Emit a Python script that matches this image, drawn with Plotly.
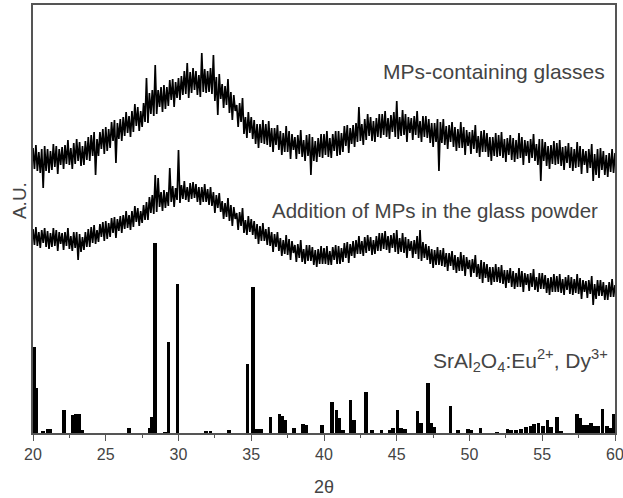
import plotly.graph_objects as go

# Scan grid (2theta) for the two measured patterns
SCAN_START = 20.0
SCAN_STEP = 0.1

# Intensity (arbitrary units) - MPs-containing glasses, one row per degree (20..59) + 60
glasses = [
    285, 264, 288, 262, 281, 260, 284, 245, 287, 262,
    284, 260, 282, 263, 289, 266, 287, 259, 284, 268,
    286, 264, 288, 269, 293, 268, 285, 264, 290, 269,
    294, 272, 291, 267, 287, 268, 292, 273, 296, 272,
    298, 277, 301, 258, 294, 277, 301, 284, 304, 279,
    306, 282, 304, 285, 311, 292, 313, 270, 310, 294,
    314, 292, 316, 297, 321, 300, 317, 296, 322, 301,
    329, 307, 326, 302, 322, 306, 330, 311, 355, 310,
    340, 319, 343, 317, 368, 319, 343, 326, 346, 321,
    348, 324, 346, 327, 353, 333, 354, 326, 351, 335,
    355, 333, 357, 338, 362, 339, 370, 335, 361, 340,
    365, 343, 362, 338, 358, 336, 380, 341, 364, 340,
    362, 341, 365, 339, 378, 332, 356, 318, 359, 334,
    349, 325, 347, 328, 354, 320, 341, 313, 338, 322,
    328, 306, 330, 311, 335, 299, 316, 295, 321, 300,
    316, 294, 313, 289, 309, 285, 309, 290, 313, 289,
    309, 288, 312, 286, 305, 281, 305, 288, 308, 283,
    302, 278, 300, 281, 307, 281, 302, 274, 299, 283,
    296, 274, 298, 279, 303, 276, 293, 272, 298, 277,
    299, 258, 296, 272, 292, 271, 295, 276, 299, 275,
    299, 278, 302, 276, 295, 275, 299, 282, 302, 277,
    302, 278, 300, 281, 307, 287, 308, 280, 305, 289,
    308, 286, 310, 291, 326, 292, 309, 288, 314, 293,
    319, 297, 316, 292, 312, 291, 315, 296, 319, 295,
    319, 298, 322, 296, 315, 294, 318, 301, 321, 296,
    332, 294, 316, 297, 323, 298, 319, 291, 316, 300,
    315, 293, 317, 298, 322, 295, 312, 291, 317, 296,
    317, 295, 314, 290, 310, 286, 310, 291, 314, 262,
    311, 290, 314, 288, 307, 284, 308, 291, 311, 286,
    306, 282, 304, 285, 311, 285, 306, 278, 303, 287,
    301, 279, 303, 284, 308, 280, 297, 276, 302, 281,
    303, 281, 300, 276, 296, 272, 296, 277, 300, 276,
    298, 277, 301, 275, 294, 271, 295, 278, 298, 273,
    295, 271, 293, 274, 300, 275, 296, 268, 293, 277,
    292, 270, 294, 275, 299, 272, 289, 268, 294, 252,
    294, 272, 291, 267, 287, 264, 288, 269, 292, 268,
    290, 269, 293, 267, 286, 263, 287, 270, 290, 265,
    286, 262, 284, 265, 291, 266, 287, 259, 284, 268,
    282, 260, 284, 265, 289, 252, 279, 258, 284, 255,
    285, 263, 282, 258, 278, 256, 280, 261, 284, 260,
    280,
]

# Intensity (arbitrary units) - Addition of MPs in the glass powder
powder = [
    204, 188, 206, 187, 201, 185, 203, 190, 205, 186,
    202, 184, 200, 186, 205, 187, 203, 182, 201, 189,
    200, 183, 201, 187, 205, 184, 197, 182, 201, 185,
    201, 173, 199, 181, 196, 183, 201, 186, 204, 186,
    206, 190, 208, 189, 203, 191, 209, 196, 211, 192,
    212, 194, 210, 196, 215, 200, 216, 195, 214, 202,
    217, 200, 218, 204, 222, 205, 218, 203, 222, 206,
    227, 211, 225, 207, 222, 210, 228, 213, 231, 213,
    236, 220, 238, 219, 258, 221, 255, 226, 241, 222,
    243, 225, 241, 227, 265, 231, 247, 226, 245, 233,
    283, 230, 248, 234, 252, 233, 246, 231, 250, 234,
    251, 235, 249, 231, 246, 228, 246, 231, 249, 231,
    244, 228, 246, 227, 241, 220, 238, 225, 240, 221,
    232, 214, 230, 216, 235, 212, 228, 207, 226, 214,
    220, 203, 221, 207, 225, 200, 213, 198, 217, 201,
    214, 198, 212, 194, 209, 189, 207, 192, 210, 192,
    204, 188, 206, 187, 201, 181, 199, 186, 201, 182,
    195, 177, 193, 179, 198, 178, 194, 173, 192, 180,
    188, 171, 189, 175, 193, 171, 184, 169, 188, 172,
    188, 172, 186, 168, 183, 166, 184, 169, 187, 169,
    185, 169, 187, 168, 182, 168, 186, 173, 188, 169,
    187, 169, 185, 171, 190, 175, 191, 170, 189, 177,
    192, 175, 193, 179, 197, 179, 192, 177, 196, 180,
    198, 182, 196, 178, 193, 179, 197, 182, 200, 182,
    200, 184, 202, 183, 197, 180, 198, 185, 200, 181,
    203, 179, 195, 181, 200, 180, 196, 175, 194, 182,
    192, 175, 193, 179, 197, 174, 203, 172, 191, 175,
    189, 173, 187, 169, 184, 165, 183, 168, 186, 168,
    183, 167, 185, 166, 180, 162, 180, 167, 182, 163,
    178, 160, 176, 162, 181, 162, 178, 157, 176, 164,
    173, 156, 174, 160, 178, 156, 169, 154, 173, 150,
    171, 155, 169, 151, 166, 148, 166, 151, 169, 151,
    166, 150, 168, 149, 163, 145, 163, 150, 165, 146,
    162, 144, 160, 146, 165, 146, 162, 141, 160, 148,
    159, 142, 160, 146, 164, 143, 156, 141, 160, 144,
    160, 144, 158, 140, 155, 138, 156, 141, 159, 141,
    157, 141, 159, 140, 154, 138, 156, 143, 158, 139,
    156, 138, 154, 140, 159, 139, 155, 134, 153, 141,
    152, 135, 153, 139, 157, 128, 149, 134, 153, 137,
    153, 137, 151, 133, 148, 133, 151, 136, 154, 136,
    148,
]

# Reference pattern SrAl2O4:Eu2+, Dy3+ (stick positions and intensities)
ref_pos = [
    20.05, 20.2, 20.7, 21.0, 21.15, 22.12, 22.72, 22.95, 23.15, 23.4,
    26.6, 28.0, 28.15, 28.38, 29.05, 29.3, 29.92, 31.9, 32.2, 33.45,
    34.75, 35.1, 35.4, 35.65, 36.33, 36.95, 37.15, 37.35, 37.95, 38.55,
    38.75, 39.85, 40.55, 40.85, 41.05, 41.3, 41.82, 42.05, 42.9, 43.3,
    43.95, 44.5, 44.75, 45.05, 45.3, 45.55, 46.42, 46.65, 47.13, 47.4,
    47.6, 48.7, 49.2, 49.9, 50.1, 50.75, 51.9, 52.6, 52.85, 53.2,
    53.55, 53.9, 54.2, 54.45, 54.75, 55.05, 55.35, 55.6, 56.0, 56.3,
    57.38, 57.6, 57.85, 58.1, 58.35, 58.6, 58.85, 59.15, 59.45, 59.7,
    59.95,
]
ref_int = [
    86, 45, 2, 4, 4, 23, 18, 19, 19, 3,
    5, 5, 16, 190, 1, 91, 149, 2, 2, 3,
    69, 146, 4, 4, 16, 19, 17, 13, 5, 9,
    8, 8, 31, 23, 15, 3, 33, 13, 41, 3,
    3, 3, 5, 23, 5, 4, 22, 10, 50, 10,
    6, 27, 3, 4, 3, 5, 1, 4, 3, 3,
    4, 6, 7, 9, 10, 7, 13, 6, 16, 2,
    19, 15, 8, 8, 10, 7, 7, 24, 7, 5,
    19,
]

labels = ["MPs-containing glasses",
          "Addition of MPs in the glass powder",
          "SrAl<sub>2</sub>O<sub>4</sub>:Eu<sup>2+</sup>, Dy<sup>3+</sup>"]

scan_x = [round(SCAN_START + i * SCAN_STEP, 2) for i in range(len(glasses))]

FONT = "Arial, Liberation Sans, sans-serif"
TXT = "#444444"
AX = "#555555"

fig = go.Figure()
fig.add_trace(go.Bar(x=ref_pos, y=ref_int, width=0.25,
                     marker=dict(color="black", line=dict(width=0)),
                     showlegend=False))
fig.add_trace(go.Scatter(x=scan_x, y=powder, mode="lines",
                         line=dict(color="black", width=1.7), showlegend=False))
fig.add_trace(go.Scatter(x=scan_x, y=glasses, mode="lines",
                         line=dict(color="black", width=1.7), showlegend=False))

fig.update_layout(
    width=623, height=498,
    margin=dict(l=33, r=8, t=5, b=65, autoexpand=False),
    paper_bgcolor="white", plot_bgcolor="white",
    font=dict(family=FONT, color=TXT, size=16),
    bargap=0,
    xaxis=dict(range=[20, 60], tickmode="array", automargin=False,
               tickvals=[20, 25, 30, 35, 40, 45, 50, 55, 60],
               ticklabeloverflow="allow",
               ticks="outside", ticklen=6, tickwidth=1.3, tickcolor=AX,
               minor=dict(dtick=2.5, tick0=20, ticks="outside", ticklen=3,
                          tickwidth=1.3, tickcolor=AX),
               showline=True, linecolor=AX, linewidth=1.5, mirror=True,
               showgrid=False, zeroline=False,
               tickfont=dict(size=16, color=TXT)),
    yaxis=dict(range=[0, 428], showticklabels=False, ticks="", automargin=False,
               showline=True, linecolor=AX, linewidth=1.5, mirror=True,
               showgrid=False, zeroline=False),
    annotations=[
        dict(x=59.45, y=362, xref="x", yref="y", text=labels[0],
             xanchor="right", yanchor="middle", showarrow=False,
             font=dict(size=21, color=TXT)),
        dict(x=58.95, y=223, xref="x", yref="y", text=labels[1],
             xanchor="right", yanchor="middle", showarrow=False,
             font=dict(size=20.5, color=TXT)),
        dict(x=59.65, y=73, xref="x", yref="y", text=labels[2],
             xanchor="right", yanchor="middle", showarrow=False,
             font=dict(size=21, color=TXT)),
        dict(x=0.5, y=-0.126, xref="paper", yref="paper", text="2θ",
             xanchor="center", yanchor="middle", showarrow=False,
             font=dict(size=18, color=TXT)),
        dict(x=-0.024, y=0.542, xref="paper", yref="paper", text="A.U.",
             textangle=-90, xanchor="center", yanchor="middle",
             showarrow=False, font=dict(size=19, color=TXT)),
    ],
)

fig.write_html("out.html", config={"displayModeBar": False},
               post_script="document.documentElement.style.overflow='hidden';"
                           "document.body.style.margin='0';"
                           "document.body.style.overflow='hidden';")
